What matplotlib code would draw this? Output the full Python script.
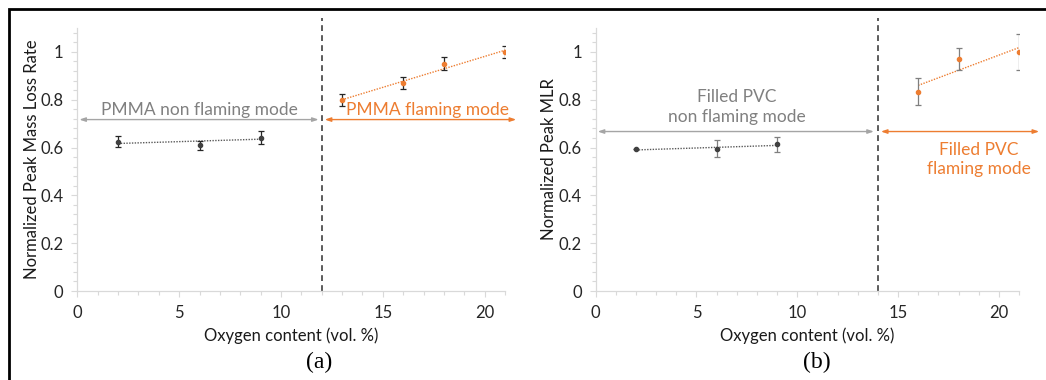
import matplotlib
matplotlib.use("Agg")
import matplotlib.pyplot as plt
from matplotlib.ticker import MultipleLocator
from matplotlib.patches import Rectangle

plt.rcParams['font.family'] = ['Lato', 'DejaVu Sans']

# ---- data (a) PMMA ----
a_nf_x = [2, 6, 9]
a_nf_y = [0.625, 0.610, 0.642]
a_nf_err = [0.023, 0.019, 0.026]
a_nf_trend_x = [2, 9]
a_nf_trend_y = [0.617, 0.635]

a_f_x = [13, 16, 18, 21]
a_f_y = [0.798, 0.869, 0.951, 1.0]
a_f_err = [0.024, 0.025, 0.026, 0.025]
a_f_trend_x = [13, 21]
a_f_trend_y = [0.800, 1.007]

# ---- data (b) Filled PVC ----
b_nf_x = [2, 6, 9]
b_nf_y = [0.593, 0.596, 0.613]
b_nf_err = [0.0, 0.036, 0.031]
b_nf_trend_x = [2, 9]
b_nf_trend_y = [0.590, 0.609]

b_f_x = [16, 18, 21]
b_f_y = [0.834, 0.971, 1.0]
b_f_err = [0.055, 0.047, 0.075]
b_f_trend_x = [16, 21]
b_f_trend_y = [0.860, 1.018]

y_ticks = [0, 0.2, 0.4, 0.6, 0.8, 1]
y_tick_labels = ['0', '0.2', '0.4', '0.6', '0.8', '1']
x_ticks = [0, 5, 10, 15, 20]

GRAY_PT = '#404040'
ORANGE = '#ED7D31'
ARROW_GRAY = '#A5A5A5'
TEXT_GRAY = '#808080'
AXIS_GRAY = '#D9D9D9'

fig = plt.figure(figsize=(10.46, 3.80), dpi=100)

ax1 = fig.add_axes([77.3 / 1046, 89 / 380, 427.7 / 1046, 263 / 380])
ax2 = fig.add_axes([595.7 / 1046, 89 / 380, 423.3 / 1046, 263 / 380])


def style(ax, ylabel, ylab_x):
    ax.set_xlim(0, 21)
    ax.set_ylim(0, 1.1)
    for s in ['top', 'right']:
        ax.spines[s].set_visible(False)
    for s in ['left', 'bottom']:
        ax.spines[s].set_color(AXIS_GRAY)
        ax.spines[s].set_linewidth(0.9)
    ax.set_yticks(y_ticks)
    ax.set_yticklabels(y_tick_labels)
    ax.set_xticks(x_ticks)
    ax.yaxis.set_minor_locator(MultipleLocator(0.04))
    ax.xaxis.set_minor_locator(MultipleLocator(1))
    ax.tick_params(which='both', color=AXIS_GRAY, labelcolor='#262626',
                   labelsize=12, direction='out')
    ax.tick_params(which='major', length=4, width=0.8, pad=6)
    ax.tick_params(which='minor', length=3, width=0.8)
    ax.set_xlabel('Oxygen content (vol. %)', fontsize=12, color='#1a1a1a', labelpad=5)
    ax.set_ylabel(ylabel, fontsize=12, color='#1a1a1a', va='center')
    ax.yaxis.set_label_coords(ylab_x, 0.5)
    ax.patch.set_alpha(0)


def arrow(ax, x0, x1, y, color):
    ax.annotate('', xy=(x1, y), xytext=(x0, y), annotation_clip=False,
                arrowprops=dict(arrowstyle='<|-|>,head_length=0.35,head_width=0.12',
                                color=color, lw=1.0, shrinkA=0, shrinkB=0))


# ---- panel (a) ----
style(ax1, 'Normalized Peak Mass Loss Rate', -0.106)
ax1.plot(a_nf_trend_x, a_nf_trend_y, ls=(0, (1, 1)), color='#595959', lw=1.0)
ax1.plot(a_f_trend_x, a_f_trend_y, ls=(0, (1, 1)), color=ORANGE, lw=1.0)
ax1.errorbar(a_nf_x, a_nf_y, yerr=a_nf_err, fmt='o', ms=3.0, color=GRAY_PT,
             ecolor='#262626', elinewidth=0.9, capsize=2, capthick=0.9)
ax1.errorbar(a_f_x, a_f_y, yerr=a_f_err, fmt='o', ms=3.0, color=ORANGE,
             ecolor='#262626', elinewidth=0.9, capsize=2, capthick=0.9)
ax1.plot([12, 12], [0, 1.141], ls=(0, (3.5, 2.5)), color='#404040', lw=1.2, clip_on=False)
arrow(ax1, 0.1, 11.85, 0.717, ARROW_GRAY)
arrow(ax1, 12.15, 21.55, 0.717, ORANGE)
ax1.text(6.0, 0.756, 'PMMA non flaming mode', color=TEXT_GRAY, fontsize=12.5,
         ha='center', va='center')
ax1.text(17.2, 0.756, 'PMMA flaming mode', color=ORANGE, fontsize=12.5,
         ha='center', va='center')

# ---- panel (b) ----
style(ax2, 'Normalized Peak MLR', -0.110)
ax2.plot(b_nf_trend_x, b_nf_trend_y, ls=(0, (1, 1)), color='#595959', lw=1.0)
ax2.plot(b_f_trend_x, b_f_trend_y, ls=(0, (1, 1)), color=ORANGE, lw=1.0)
ax2.errorbar(b_nf_x, b_nf_y, yerr=b_nf_err, fmt='o', ms=3.0, color=GRAY_PT,
             ecolor='#7F7F7F', elinewidth=0.9, capsize=2, capthick=0.9)
ax2.errorbar(b_f_x, b_f_y, yerr=b_f_err, fmt='o', ms=3.0, color=ORANGE,
             ecolor='#7F7F7F', elinewidth=0.9, capsize=2, capthick=0.9)
ax2.plot([14, 14], [0, 1.141], ls=(0, (3.5, 2.5)), color='#404040', lw=1.2, clip_on=False)
arrow(ax2, 0.1, 13.8, 0.667, ARROW_GRAY)
arrow(ax2, 14.15, 22.0, 0.667, ORANGE)
ax2.text(7.0, 0.770, 'Filled PVC\nnon flaming mode', color=TEXT_GRAY, fontsize=12.5,
         ha='center', va='center', linespacing=1.3)
ax2.text(19.0, 0.550, 'Filled PVC\nflaming mode', color=ORANGE, fontsize=12.5,
         ha='center', va='center', linespacing=1.3)

# ---- panel letters ----
fig.text(319 / 1046, 1 - 362 / 380, '(a)', family='Liberation Serif', fontsize=17,
         ha='center', va='center')
fig.text(817 / 1046, 1 - 362 / 380, '(b)', family='Liberation Serif', fontsize=17,
         ha='center', va='center')

# ---- outer frame (partially cut off on right/bottom) ----
fig.patches.append(Rectangle((9 / 1046, -0.05), 1.1, 1 - 9 / 380 + 0.05,
                             transform=fig.transFigure, fill=False,
                             edgecolor='black', lw=2.0))

fig.savefig('out.png', dpi=100)
